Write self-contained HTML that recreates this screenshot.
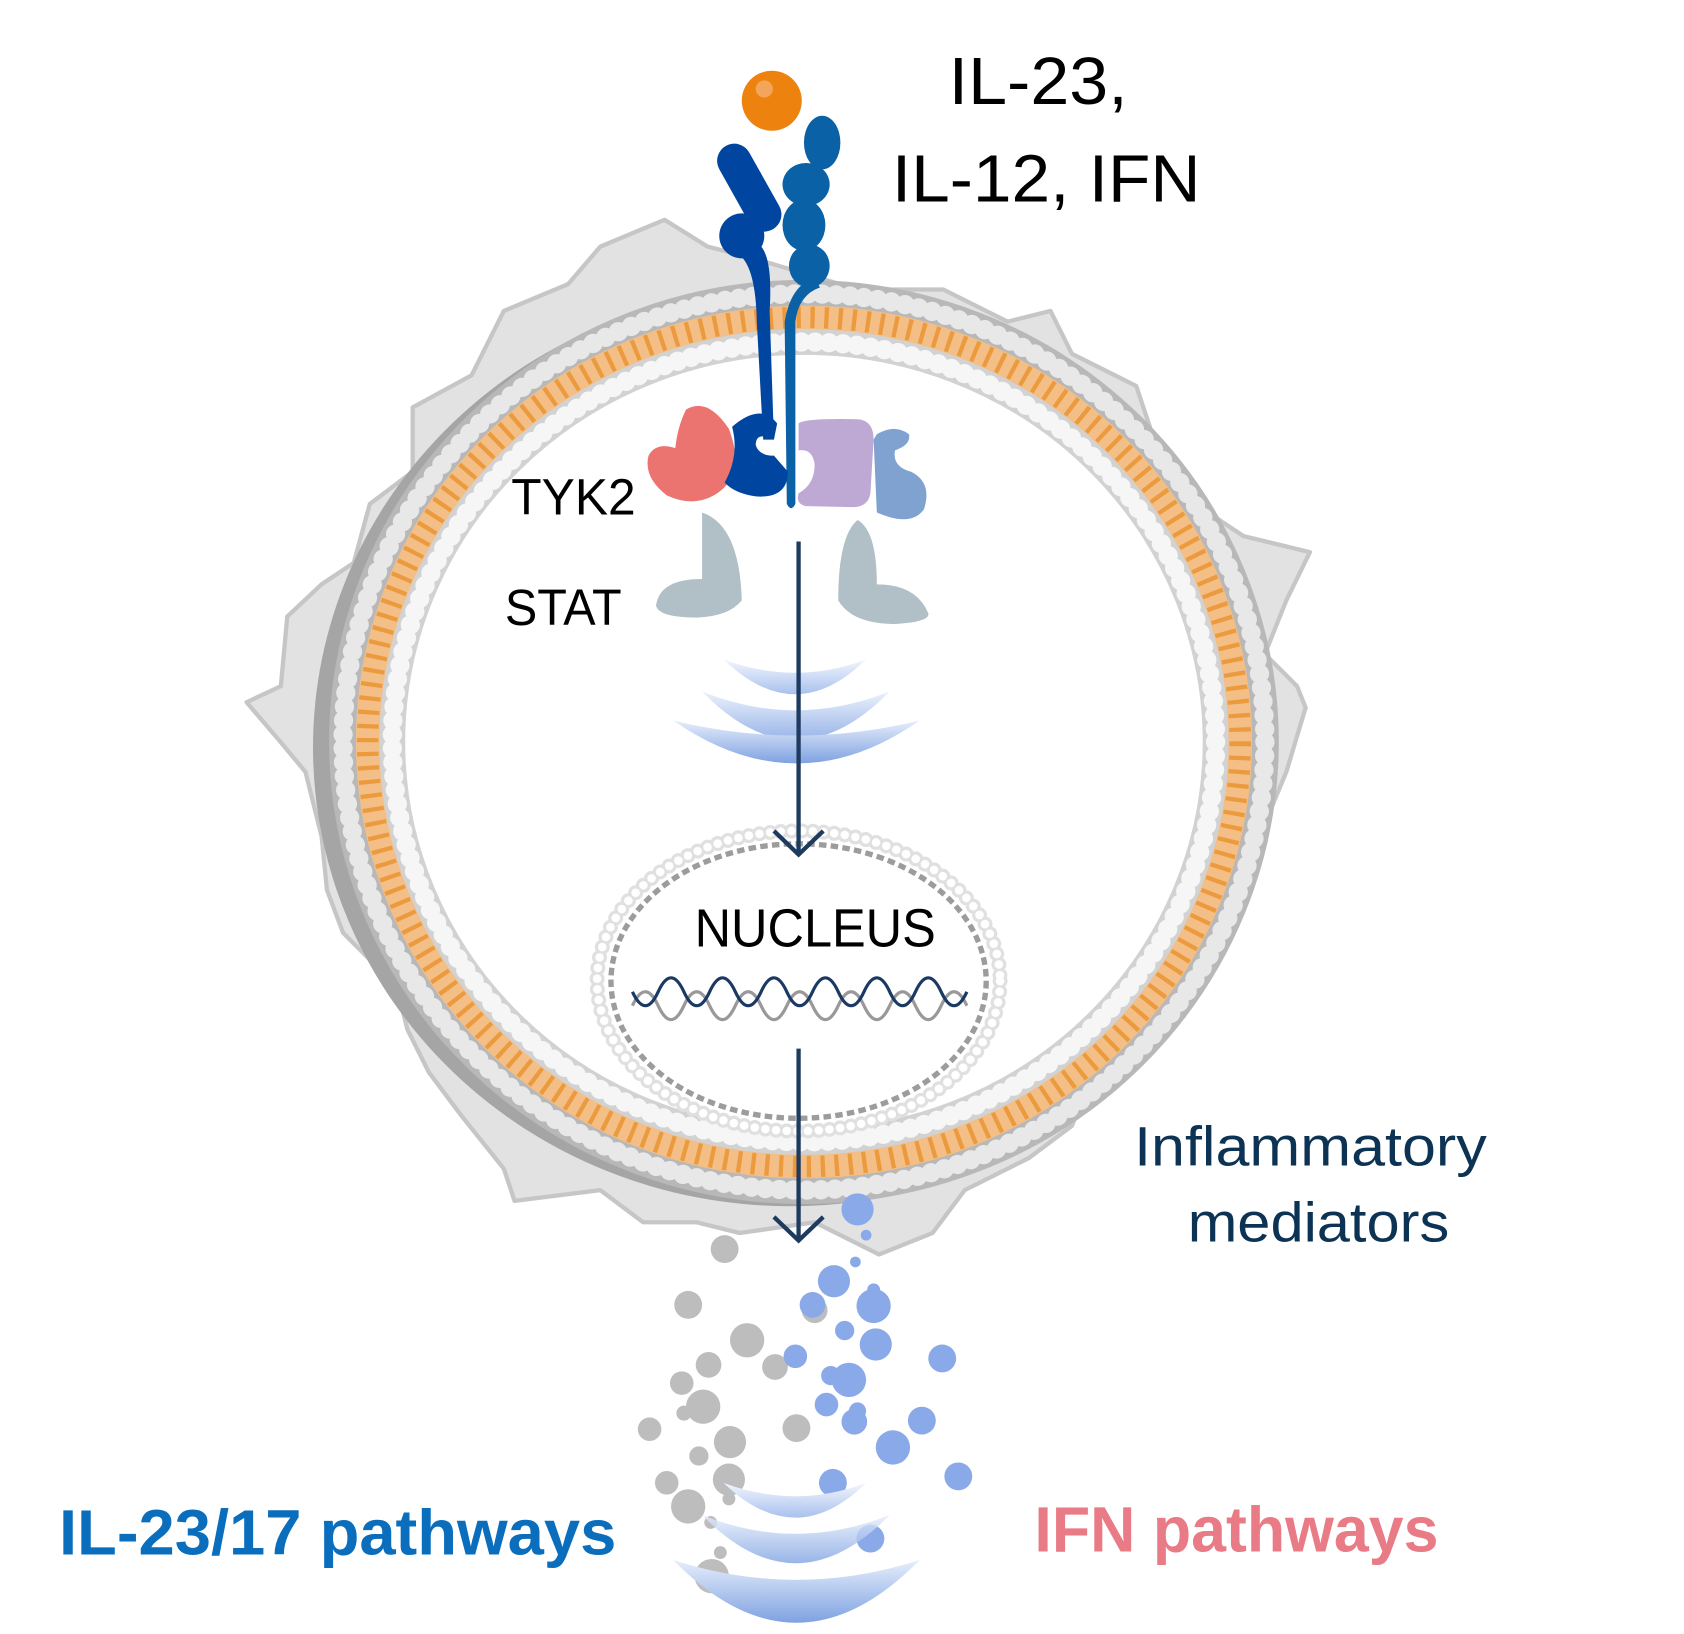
<!DOCTYPE html>
<html><head><meta charset="utf-8"><style>
html,body{margin:0;padding:0;background:#fff;}
svg{display:block;}
text{font-family:"Liberation Sans","DejaVu Sans",sans-serif;}
</style></head><body>
<svg width="1684" height="1634" viewBox="0 0 1571 1524" preserveAspectRatio="none" xmlns="http://www.w3.org/2000/svg">
<defs>
<linearGradient id="wv" x1="0" y1="0" x2="0" y2="1">
<stop offset="0" stop-color="#e6eefb"/><stop offset="1" stop-color="#7fa2e2"/></linearGradient>
<linearGradient id="wv2" x1="0" y1="0" x2="0" y2="1">
<stop offset="0" stop-color="#f2f6fd"/><stop offset="1" stop-color="#a9c1ee"/></linearGradient>
</defs>
<path d="M230,655 L262,640 L268,575 L300,545 L330,525 L345,470 L385,440 L385,380 L440,350 L470,290 L530,265 L560,230 L620,205 L660,230 L700,240 L800,270 L880,270 L940,300 L980,290 L1000,330 L1060,360 L1080,420 L1130,480 L1160,500 L1222,515 L1200,560 L1180,610 L1210,640 L1218,660 L1200,720 L1175,780 L1165,830 L1150,870 L1120,910 L1090,950 L1020,1000 L1000,1050 L960,1080 L900,1110 L870,1150 L820,1170 L760,1140 L690,1150 L650,1140 L600,1140 L560,1110 L480,1120 L470,1090 L430,1040 L400,1000 L380,960 L370,920 L320,870 L305,830 L300,780 L285,720 L260,690 Z" fill="#e2e2e2" stroke="#c6c6c6" stroke-width="4" stroke-linejoin="round"/>
<ellipse cx="737" cy="697" rx="445" ry="428" fill="#a5a5a5"/>
<ellipse cx="750" cy="692" rx="430" ry="418" fill="#d0d0d0" stroke="#b8b8b8" stroke-width="26"/>
<ellipse cx="750" cy="692" rx="430" ry="418" fill="none" stroke="#e8e8e8" stroke-width="18" stroke-dasharray="0 13" stroke-linecap="round"/>
<ellipse cx="750" cy="692" rx="407" ry="396" fill="none" stroke="#f3bf86" stroke-width="22"/>
<ellipse cx="750" cy="692" rx="407" ry="396" fill="none" stroke="#ec9a3e" stroke-width="20" stroke-dasharray="4 9"/>
<ellipse cx="750" cy="692" rx="384" ry="373" fill="#fff" stroke="#d2d2d2" stroke-width="24"/>
<ellipse cx="750" cy="692" rx="384" ry="373" fill="none" stroke="#f6f6f6" stroke-width="18" stroke-dasharray="0 13" stroke-linecap="round"/>
<ellipse cx="750" cy="692" rx="370" ry="359" fill="#fff"/>
<circle cx="720" cy="94" r="28" fill="#ee820f"/>
<circle cx="713" cy="83" r="8" fill="#f3a65a"/>
<line x1="685" y1="150" x2="713" y2="200" stroke="#0045a0" stroke-width="32" stroke-linecap="round"/>
<circle cx="692" cy="220" r="21" fill="#0045a0"/>
<path d="M700,225 Q722,225 718,290 L722,410 L712,410 L706,300 Q705,250 690,238 Z" fill="#0045a0"/>
<ellipse cx="767" cy="133" rx="17" ry="25" fill="#0b61a6"/>
<ellipse cx="752" cy="172" rx="22" ry="20" fill="#0b61a6"/>
<ellipse cx="750" cy="210" rx="20" ry="24" fill="#0b61a6"/>
<ellipse cx="755" cy="248" rx="19" ry="20" fill="#0b61a6"/>
<path d="M760,260 Q738,265 732,300 L734,470 Q738,478 742,470 L742,300 Q745,275 765,268 Z" fill="#0b61a6"/>
<path d="M640,382 Q660,370 680,400 Q695,440 672,458 Q650,475 622,462 Q600,445 605,425 Q612,412 630,418 Q632,398 640,382 Z" fill="#ec7470"/>
<path d="M683,398 Q710,375 725,395 L722,410 Q705,402 705,415 Q708,425 722,425 L735,440 Q735,465 705,463 Q685,460 676,450 Q690,425 683,398 Z" fill="#0045a0"/>
<path d="M745,395 Q750,390 800,391 Q815,392 815,410 L812,460 Q810,473 795,473 L752,472 Q742,470 745,460 Q760,452 760,433 Q758,418 745,420 Z" fill="#bea8d4"/>
<path d="M818,405 Q835,395 848,405 Q850,415 835,420 Q832,435 850,440 Q870,450 862,475 Q850,492 818,478 L815,410 Z" fill="#7fa2d1"/>
<path d="M655,478 Q690,490 692,560 Q680,575 650,576 Q615,576 612,565 Q615,540 655,540 Z" fill="#b0c0c6"/>
<path d="M800,485 Q782,500 782,560 Q795,582 835,582 Q868,580 866,572 Q855,545 818,545 Q818,495 800,485 Z" fill="#b0c0c6"/>
<path d="M675,615 Q742,680 808,615 Q742,640 675,615 Z" fill="url(#wv2)"/>
<path d="M655,645 Q742,735 830,645 Q742,680 655,645 Z" fill="url(#wv)" opacity="0.8"/>
<path d="M628,672 Q743,752 858,672 Q743,700 628,672 Z" fill="url(#wv)"/>
<ellipse cx="745" cy="915" rx="188" ry="140" fill="none" stroke="#e0e0e0" stroke-width="14" stroke-dasharray="0 10" stroke-linecap="round"/>
<ellipse cx="745" cy="915" rx="188" ry="140" fill="none" stroke="#fff" stroke-width="8" stroke-dasharray="0 10" stroke-linecap="round"/>
<ellipse cx="745" cy="915" rx="175" ry="128" fill="none" stroke="#9c9c9c" stroke-width="5" stroke-dasharray="7 4"/>
<path d="M590,938 q12,-26 24,0 t24,0 t24,0 t24,0 t24,0 t24,0 t24,0 t24,0 t24,0 t24,0 t24,0 t24,0 t24,0" fill="none" stroke="#999" stroke-width="3"/>
<path d="M590,925 q12,26 24,0 t24,0 t24,0 t24,0 t24,0 t24,0 t24,0 t24,0 t24,0 t24,0 t24,0 t24,0 t24,0" fill="none" stroke="#1b3a63" stroke-width="3"/>
<g stroke="#1e3a5f" stroke-width="4" fill="none">
<line x1="745" y1="505" x2="745" y2="795"/><polyline points="722,775 745,797 768,775"/>
<line x1="745" y1="978" x2="745" y2="1155"/><polyline points="722,1135 745,1157 768,1135"/>
</g>
<g fill="#bdbdbd">
<circle cx="676" cy="1165" r="13"/><circle cx="642" cy="1217" r="13"/><circle cx="697" cy="1250" r="16"/><circle cx="723" cy="1275" r="12"/><circle cx="661" cy="1273" r="12"/><circle cx="636" cy="1290" r="11"/><circle cx="656" cy="1312" r="16"/><circle cx="606" cy="1333" r="11"/><circle cx="681" cy="1345" r="15"/><circle cx="743" cy="1332" r="13"/><circle cx="652" cy="1358" r="9"/><circle cx="680" cy="1380" r="15"/><circle cx="622" cy="1383" r="11"/><circle cx="642" cy="1405" r="16"/><circle cx="663" cy="1420" r="6"/><circle cx="672" cy="1448" r="6"/><circle cx="664" cy="1470" r="16"/><circle cx="760" cy="1222" r="12"/><circle cx="638" cy="1318" r="7"/><circle cx="680" cy="1398" r="6"/>
</g>
<g fill="#8aa9e9">
<circle cx="800" cy="1128" r="15"/><circle cx="808" cy="1152" r="5"/><circle cx="778" cy="1195" r="15"/><circle cx="798" cy="1177" r="5"/><circle cx="815" cy="1203" r="6"/><circle cx="815" cy="1218" r="16"/><circle cx="758" cy="1217" r="12"/><circle cx="788" cy="1241" r="9"/><circle cx="817" cy="1254" r="15"/><circle cx="742" cy="1265" r="11"/><circle cx="775" cy="1283" r="9"/><circle cx="792" cy="1287" r="16"/><circle cx="771" cy="1310" r="11"/><circle cx="797" cy="1326" r="12"/><circle cx="800" cy="1316" r="8"/><circle cx="860" cy="1325" r="13"/><circle cx="833" cy="1350" r="16"/><circle cx="879" cy="1267" r="13"/><circle cx="777" cy="1383" r="13"/><circle cx="894" cy="1377" r="13"/><circle cx="812" cy="1435" r="13"/>
</g>
<path d="M675,1383 Q742,1448 808,1383 Q742,1408 675,1383 Z" fill="url(#wv2)"/>
<path d="M655,1413 Q742,1503 830,1413 Q742,1448 655,1413 Z" fill="url(#wv)" opacity="0.8"/>
<path d="M628,1455 Q743,1572 858,1455 Q743,1492 628,1455 Z" fill="url(#wv)"/>
<text x="885" y="97" font-size="62" fill="#000" textLength="167" lengthAdjust="spacingAndGlyphs">IL-23,</text>
<text x="832" y="188" font-size="62" fill="#000" textLength="288" lengthAdjust="spacingAndGlyphs">IL-12, IFN</text>
<text x="477" y="480" font-size="48" fill="#000" textLength="116" lengthAdjust="spacingAndGlyphs">TYK2</text>
<text x="471" y="583" font-size="48" fill="#000" textLength="109" lengthAdjust="spacingAndGlyphs">STAT</text>
<text x="648" y="883" font-size="50" fill="#000" textLength="225" lengthAdjust="spacingAndGlyphs">NUCLEUS</text>
<text x="1058" y="1087" font-size="52" fill="#0d3354" textLength="329" lengthAdjust="spacingAndGlyphs">Inflammatory</text>
<text x="1108" y="1158" font-size="52" fill="#0d3354" textLength="244" lengthAdjust="spacingAndGlyphs">mediators</text>
<text x="55" y="1450" font-size="60" font-weight="bold" fill="#0a6ebd" textLength="520" lengthAdjust="spacingAndGlyphs">IL-23/17 pathways</text>
<text x="965" y="1447" font-size="60" font-weight="bold" fill="#e87b85" textLength="377" lengthAdjust="spacingAndGlyphs">IFN pathways</text>
</svg>
</body></html>
